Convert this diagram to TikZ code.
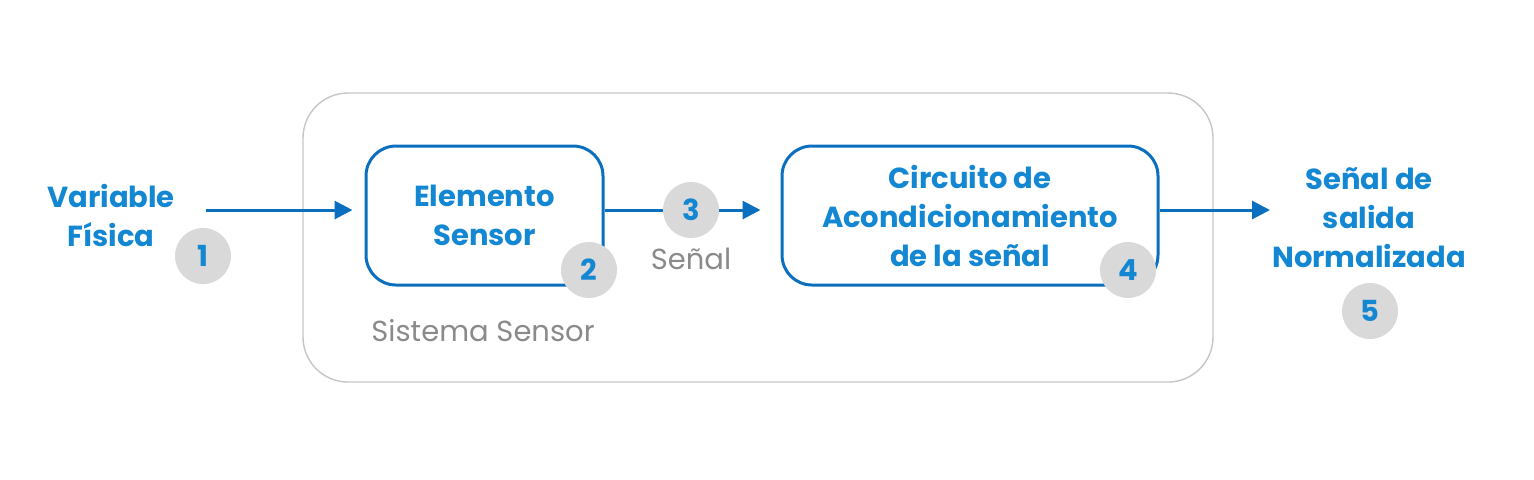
\documentclass[tikz,border=0pt]{standalone}
\usepackage{fontspec}
\setmainfont{Poppins}
\usetikzlibrary{arrows.meta}
\definecolor{bl}{HTML}{0B6FBF}
\definecolor{bltext}{HTML}{1387D2}
\definecolor{circ}{HTML}{D9D9D9}
\definecolor{outerc}{HTML}{C6C6C6}
\definecolor{greytext}{HTML}{8A8A8A}
\tikzset{
  bluetext/.style={text=bltext, font=\fontsize{14.5}{19.5}\selectfont\bfseries, align=center, inner sep=0pt},
  greylabel/.style={text=greytext, font=\fontsize{14.5}{19.5}\selectfont, inner sep=0pt},
  blockbox/.style={draw=bl, line width=1.5pt, rounded corners=15pt, minimum height=69.5pt, bluetext},
  outerbox/.style={draw=outerc, line width=0.7pt, rounded corners=22.5pt, minimum width=455pt, minimum height=144.5pt},
  numcirc/.style={circle, fill=circ, minimum size=28pt, inner sep=0pt, text=bltext, font=\fontsize{14.5}{19.5}\selectfont\bfseries},
  arr/.style={draw=bl, line width=1.5pt, -{Triangle[length=9pt,width=9pt]}}
}
\begin{document}
\begin{tikzpicture}[x=0.5pt,y=-0.5pt]
\useasboundingbox (0,0) rectangle (1534,479);
\node[outerbox] (outer) at (758,237.5) {};
\node[blockbox, minimum width=118.5pt] (b1) at (484.5,215.5) {Elemento\\Sensor};
\node[blockbox, minimum width=188pt] (b2) at (970,215.5) {Circuito de\\Acondicionamiento\\de la señal};
\node[bluetext] (vf) at (111,215) {Variable\\Física};
\node[bluetext] (out) at (1369,218) {Señal de\\salida\\Normalizada};
\coordinate (a1) at (206,210);
\coordinate (a3) at (1270,210);
\draw[arr, shorten >=6pt] (a1) -- (a1 -| b1.west);
\draw[arr, shorten >=10pt] (b1.east |- a1) -- (b2.west |- a1);
\draw[arr] (b2.east |- a3) -- (a3);
\node[numcirc] (c1) at (203,256) {1};
\node[numcirc] (c2) at (589,270) {2};
\node[numcirc] (c3) at (691,210) {3};
\node[numcirc] (c4) at (1128,270) {4};
\node[numcirc] (c5) at (1370,311) {5};
\node[greylabel] (sen) at (691,259) {Señal};
\node[greylabel] (sis) at (483,331) {Sistema Sensor};
\end{tikzpicture}
\end{document}
